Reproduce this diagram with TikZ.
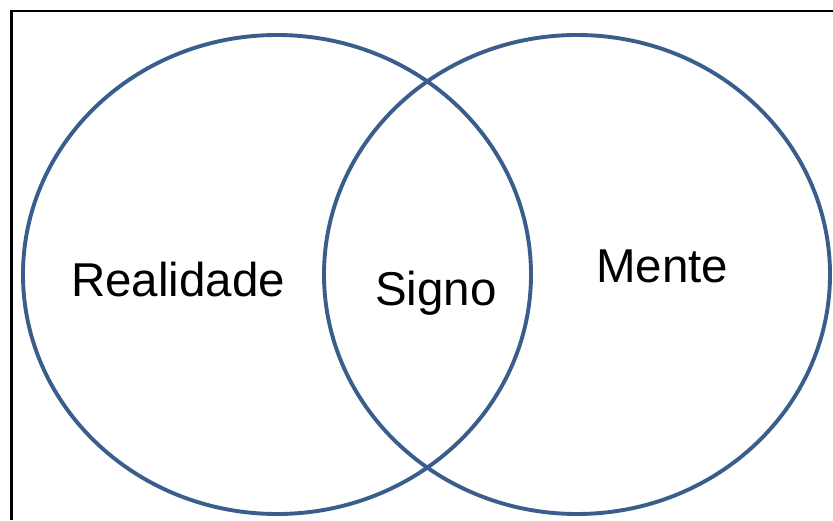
\documentclass[tikz,border=0pt]{standalone}
\usepackage{fontspec}
\setmainfont{Liberation Sans}
\usetikzlibrary{shapes.geometric}
\definecolor{ringblue}{RGB}{58,94,140}
\tikzset{
  ring/.style={draw=ringblue, line width=3.9pt, ellipse, inner sep=0pt, minimum height=479pt},
  label/.style={anchor=base west, inner sep=0pt, font=\fontsize{47.5}{57}\selectfont},
  frame/.style={draw=black, line width=2.2pt}
}
\begin{document}
\begin{tikzpicture}[x=1pt,y=1pt]
  \useasboundingbox (0,0) rectangle (833,520);
  % frame edges
  \coordinate (fb) at (11.5,0);
  \coordinate (fc) at (11.5,509);
  \coordinate (fr) at (834,509);
  \draw[frame] (fb) -- (fc) -- (fr);
  % the two overlapping sets
  \node[ring, minimum width=508pt] (realset) at (277,245.5) {};
  \node[ring, minimum width=506pt] (menteset) at (577,245.5) {};
  % labels
  \node[label] (real) at (71,223) {Realidade};
  \node[label] (signo) at (375,214) {Signo};
  \node[label] (mente) at (596,237) {Mente};
\end{tikzpicture}
\end{document}
